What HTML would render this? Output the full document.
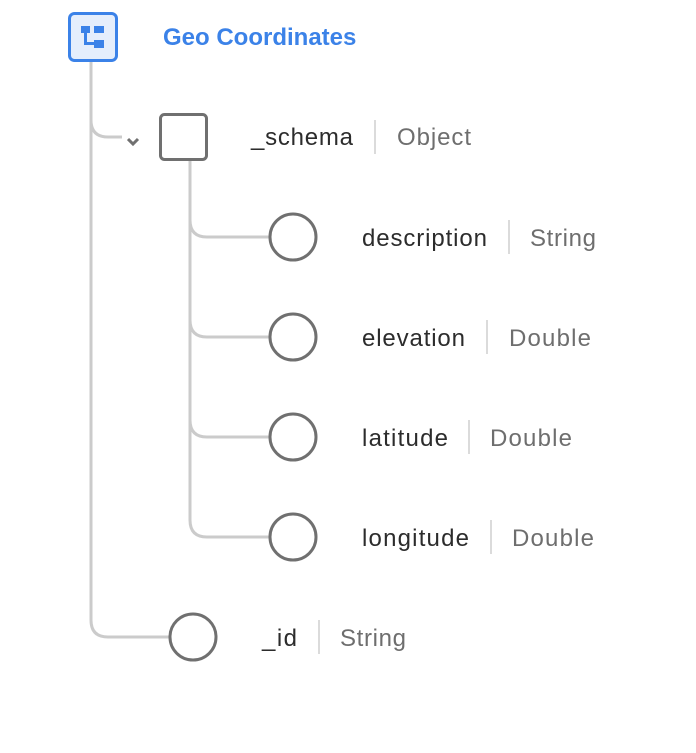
<!DOCTYPE html>
<html><head><style>
body{margin:0;background:#fff;width:696px;height:748px;overflow:hidden}
svg text{font-family:"Liberation Sans",sans-serif;font-size:24px}
</style></head><body>
<svg width="696" height="748" viewBox="0 0 696 748">
<g fill="none" stroke="#cbcbcb" stroke-width="3">
<path d="M91 61 V120 Q91 137 108 137 H122"/>
<path d="M91 61 V620 Q91 637 108 637 H170"/>
<path d="M190 160 V220 Q190 237 207 237 H270"/>
<path d="M190 160 V320 Q190 337 207 337 H270"/>
<path d="M190 160 V420 Q190 437 207 437 H270"/>
<path d="M190 160 V520 Q190 537 207 537 H270"/>
</g>
<rect x="69.5" y="13.5" width="47" height="47" rx="5" fill="#e5eefc" stroke="#3b82e8" stroke-width="3"/>
<g fill="#3b82e8">
<rect x="81" y="26" width="9" height="7"/><rect x="94" y="26" width="10" height="7"/>
<rect x="94" y="40" width="10" height="8"/><rect x="84" y="30" width="3" height="15"/>
<rect x="84" y="42" width="12" height="3"/>
</g>
<text x="163" y="45" fill="#3b82e8" font-weight="bold" style="font-size:24px">Geo Coordinates</text>
<path d="M128 139 l5 5 l5 -5" fill="none" stroke="#707070" stroke-width="3"/>
<rect x="160.5" y="114.5" width="46" height="45" rx="4" fill="#fff" stroke="#707070" stroke-width="3"/>
<g fill="#fff" stroke="#707070" stroke-width="3">
<circle cx="293" cy="237" r="23"/><circle cx="293" cy="337" r="23"/>
<circle cx="293" cy="437" r="23"/><circle cx="293" cy="537" r="23"/>
<circle cx="193" cy="637" r="23"/>
</g>
<g stroke="#cfcfcf" stroke-width="1.5">
<line x1="375" y1="120" x2="375" y2="154"/>
<line x1="509" y1="220" x2="509" y2="254"/>
<line x1="487" y1="320" x2="487" y2="354"/>
<line x1="469" y1="420" x2="469" y2="454"/>
<line x1="491" y1="520" x2="491" y2="554"/>
<line x1="319" y1="620" x2="319" y2="654"/>
</g>
<g fill="#2c2c2c">
<text x="251" y="145" textLength="102">_schema</text>
<text x="362" y="246" textLength="125">description</text>
<text x="362" y="346" textLength="103">elevation</text>
<text x="362" y="446" textLength="86">latitude</text>
<text x="362" y="546" textLength="107">longitude</text>
<text x="262" y="646" textLength="35">_id</text>
</g>
<g fill="#6e6e6e">
<text x="397" y="145" textLength="74">Object</text>
<text x="530" y="246" textLength="66">String</text>
<text x="509" y="346" textLength="82">Double</text>
<text x="490" y="446" textLength="82">Double</text>
<text x="512" y="546" textLength="82">Double</text>
<text x="340" y="646" textLength="66">String</text>
</g>
</svg>
</body></html>
